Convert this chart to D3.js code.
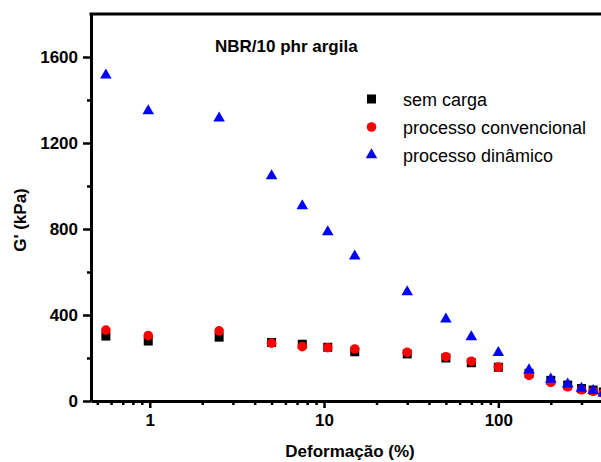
<!DOCTYPE html>
<html>
<head>
<meta charset="utf-8">
<script src="https://cdn.jsdelivr.net/npm/d3@7"></script>
<style>
  body { margin: 0; background: #fff; }
  svg { display: block; font-family: "Liberation Sans", Arial, sans-serif; }
</style>
</head>
<body>
<svg id="chart" width="601" height="462"></svg>
<script>
// data (strain %, G' kPa)
let strain = [0.56, 0.98, 2.5, 5.0, 7.5, 10.5, 15, 30, 50, 70, 100, 150, 200, 250, 300, 350, 400];
let semCarga = [302, 279, 297, 272, 264, 250, 229, 219, 200, 178, 157, 129, 96, 74, 58, 51, 42];
let convencional = [330, 304, 326, 269, 253, 248, 242, 226, 206, 185, 158, 119, 87, 66, 52, 45, 36];
let dinamico = [1516, 1349, 1316, 1047, 907, 786, 674, 507, 381, 298, 225, 144, 101, 78, 59, 48, 37];

let xTicks = [1, 10, 100];
let xMinor = [0.5, 0.6, 0.7, 0.8, 0.9, 2, 3, 4, 5, 6, 7, 8, 9, 20, 30, 40, 50, 60, 70, 80, 90, 200, 300, 400, 500, 600];
let yTicks = [0, 400, 800, 1200, 1600];
let yMinor = [200, 600, 1000, 1400];

let legendLabels = ['sem carga', 'processo convencional', 'processo dinâmico'];
let title = 'NBR/10 phr argila';

let svg = d3.select('#chart');

let plotLeft = 91, plotBottom = 401, plotTop = 14;

let x = d3.scaleLog()
    .domain([0.46, 650])
    .range([plotLeft, 640]);

let y = d3.scaleLinear()
    .domain([0, 1800])
    .range([plotBottom, plotTop]);

// axes
svg.append('g')
    .attr('transform', 'translate(0,' + plotBottom + ')')
    .call(d3.axisBottom(x).tickValues(xTicks).tickFormat(d3.format('d')).tickSize(7).tickSizeOuter(0).tickPadding(6));

svg.append('g')
    .attr('transform', 'translate(0,' + plotBottom + ')')
    .call(d3.axisBottom(x).tickValues(xMinor).tickFormat('').tickSize(4).tickSizeOuter(0))
    .select('.domain').remove();

svg.append('g')
    .attr('transform', 'translate(' + plotLeft + ',0)')
    .call(d3.axisLeft(y).tickValues(yTicks).tickFormat(d3.format('d')).tickSize(8).tickSizeOuter(0).tickPadding(5));

svg.append('g')
    .attr('transform', 'translate(' + plotLeft + ',0)')
    .call(d3.axisLeft(y).tickValues(yMinor).tickFormat('').tickSize(4).tickSizeOuter(0))
    .select('.domain').remove();

svg.selectAll('.domain').attr('stroke-width', 3).attr('stroke', '#000');
svg.selectAll('.tick line').attr('stroke-width', 2.5).attr('stroke', '#000');
svg.selectAll('.tick text')
    .attr('font-size', 17)
    .attr('font-weight', 'bold')
    .attr('fill', '#000')
    .attr('font-family', '"Liberation Sans", Arial, sans-serif');

// top frame line
svg.append('line')
    .attr('x1', plotLeft - 1.5)
    .attr('x2', 640)
    .attr('y1', y(1800))
    .attr('y2', y(1800))
    .attr('stroke', '#000')
    .attr('stroke-width', 3);

// markers
let tri = d3.symbol().type(d3.symbolTriangle).size(58);

svg.append('g').selectAll('rect')
    .data(semCarga)
    .enter()
    .append('rect')
    .attr('x', function (d, i) { return x(strain[i]) - 4.5; })
    .attr('y', function (d) { return y(d) - 4.5; })
    .attr('width', 9)
    .attr('height', 9)
    .attr('fill', '#000');

svg.append('g').selectAll('circle')
    .data(convencional)
    .enter()
    .append('circle')
    .attr('cx', function (d, i) { return x(strain[i]); })
    .attr('cy', function (d) { return y(d); })
    .attr('r', 4.8)
    .attr('fill', '#ff0000');

svg.append('g').selectAll('path')
    .data(dinamico)
    .enter()
    .append('path')
    .attr('d', tri)
    .attr('transform', function (d, i) { return 'translate(' + x(strain[i]) + ',' + y(d) + ')'; })
    .attr('fill', '#0000ff');

// legend
let legendY = [99, 127, 155];
let legend = svg.append('g');
legend.append('rect').attr('x', 367).attr('y', legendY[0] - 4.5).attr('width', 9).attr('height', 9).attr('fill', '#000');
legend.append('circle').attr('cx', 371.5).attr('cy', legendY[1]).attr('r', 4.8).attr('fill', '#ff0000');
legend.append('path').attr('d', tri).attr('transform', 'translate(371.5,' + legendY[2] + ')').attr('fill', '#0000ff');

legend.selectAll('text')
    .data(legendLabels)
    .enter()
    .append('text')
    .attr('x', 403)
    .attr('y', function (d, i) { return legendY[i] + 7; })
    .attr('font-size', 18)
    .attr('fill', '#000')
    .text(function (d) { return d; });

// titles
svg.append('text')
    .attr('x', 215)
    .attr('y', 52)
    .attr('font-size', 17)
    .attr('font-weight', 'bold')
    .text(title);

svg.append('text')
    .attr('x', 350)
    .attr('y', 457)
    .attr('text-anchor', 'middle')
    .attr('font-size', 17)
    .attr('font-weight', 'bold')
    .text('Deformação (%)');

svg.append('text')
    .attr('transform', 'translate(26,220) rotate(-90)')
    .attr('text-anchor', 'middle')
    .attr('font-size', 17)
    .attr('font-weight', 'bold')
    .text("G' (kPa)");
</script>
</body>
</html>
